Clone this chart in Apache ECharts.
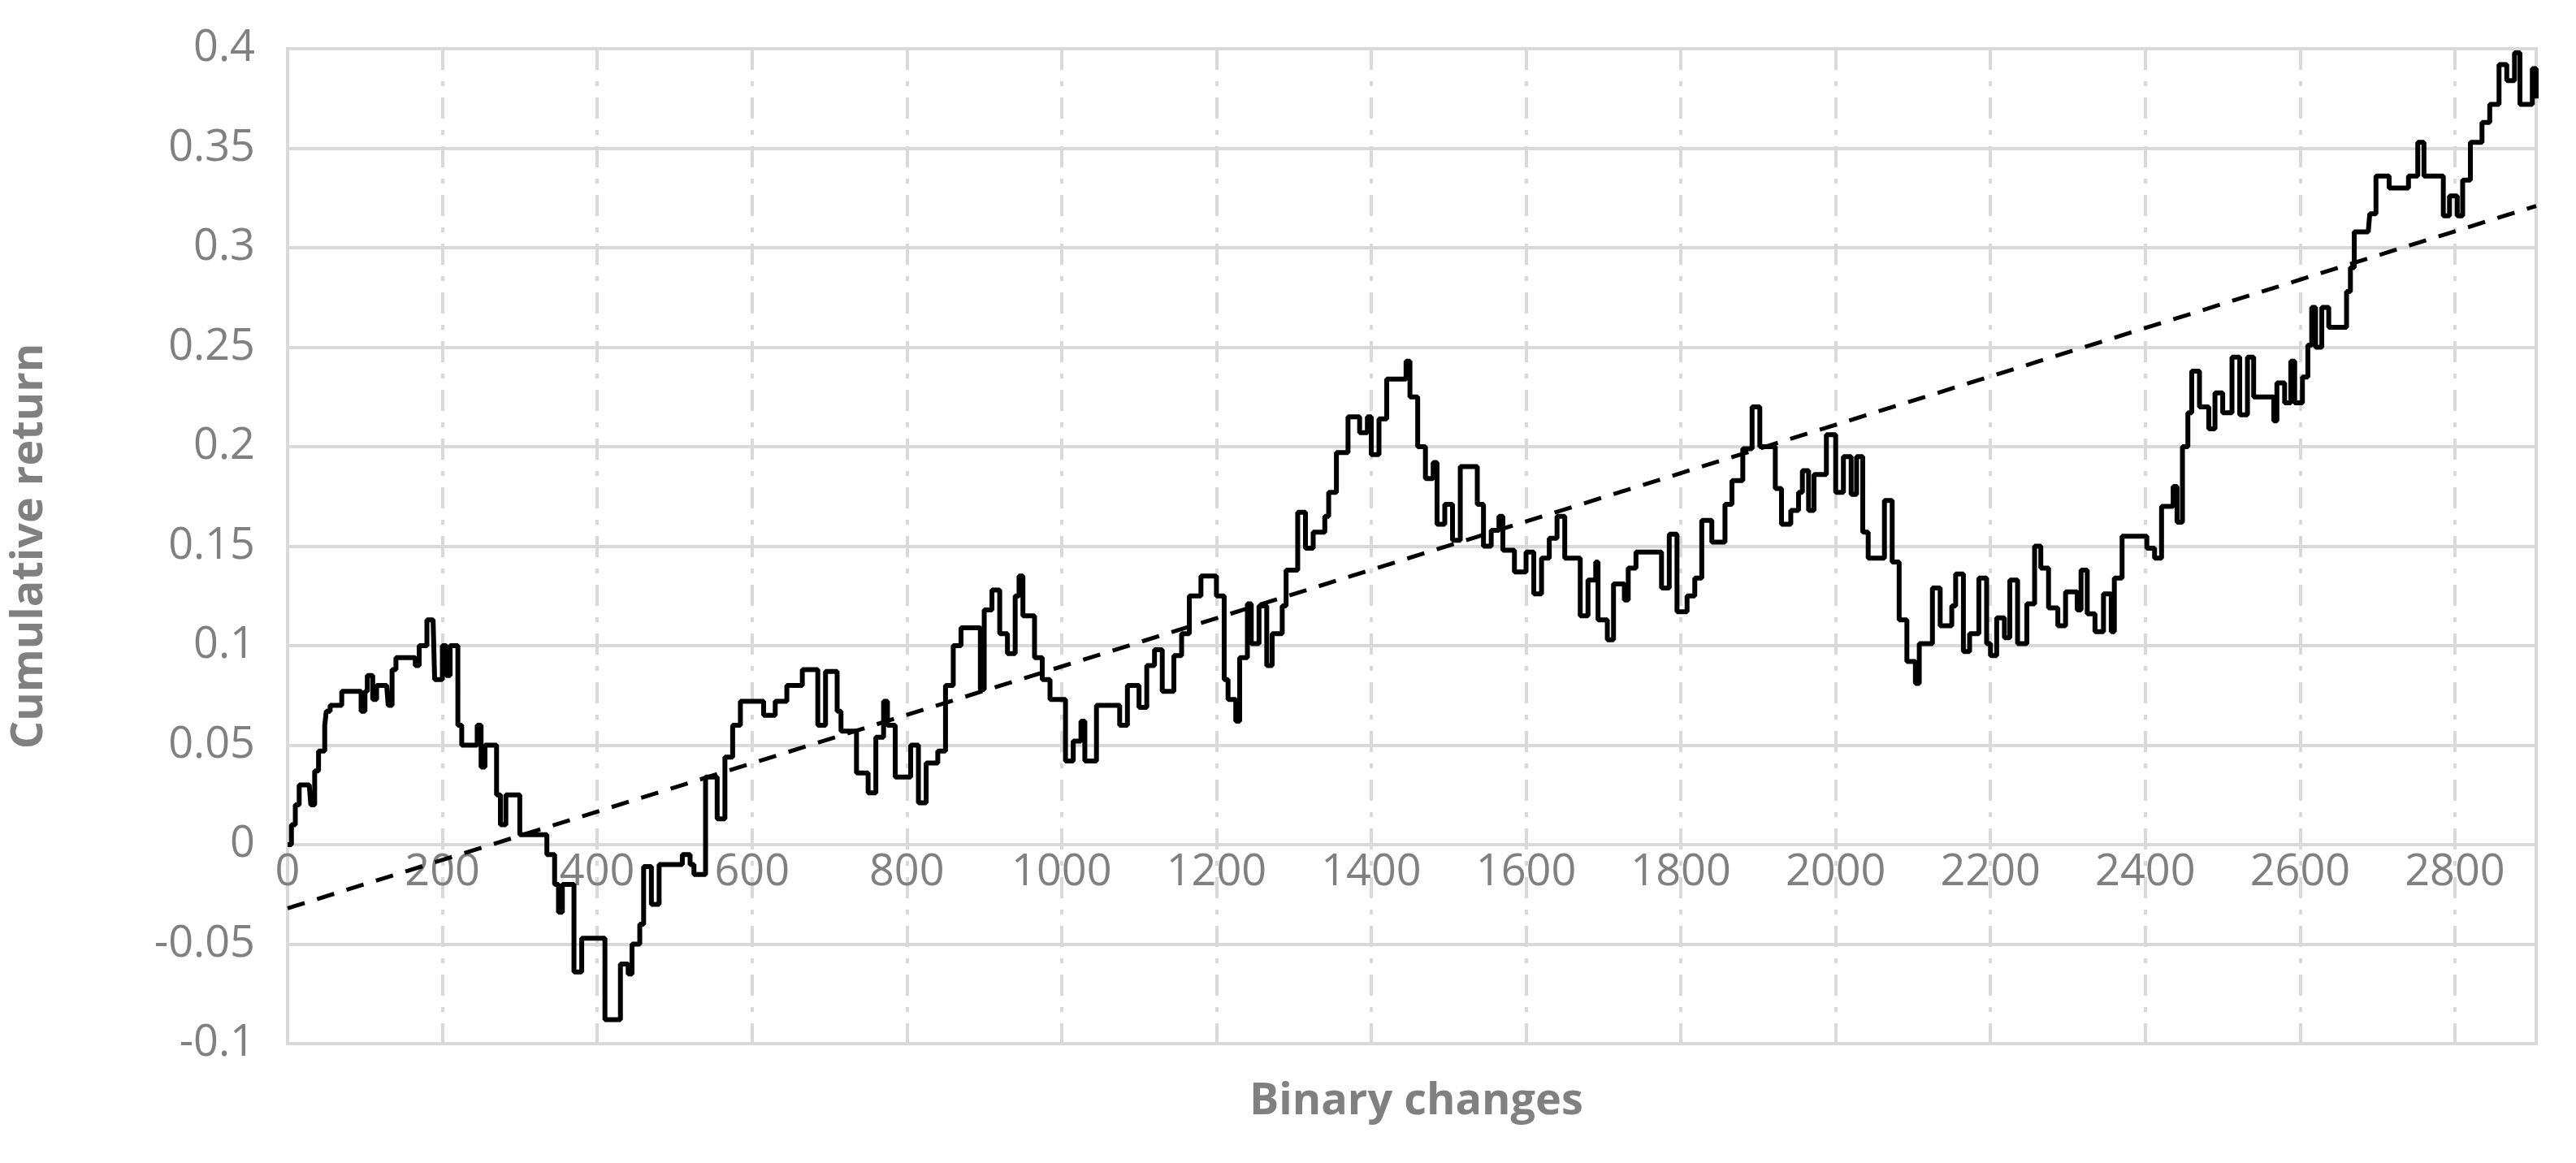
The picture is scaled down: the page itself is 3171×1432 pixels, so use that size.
<!DOCTYPE html>
<html>
<head>
<meta charset="utf-8">
<script src="https://cdn.jsdelivr.net/npm/echarts@6/dist/echarts.min.js"></script>
<style>
  html, body { margin: 0; padding: 0; background: #fff; }
  #chart { width: 3171px; height: 1432px; }
</style>
</head>
<body>
<div id="chart"></div>
<script>
// binary changes (x) and cumulative return (y)
const steps = [0,5,10,15,28,30,35,40,48,50,55,70,95,100,103,110,115,128,130,135,140,160,165,170,175,180,188,190,200,205,210,220,225,240,245,250,255,270,275,282,295,300,330,335,345,350,355,365,370,380,400,410,425,430,440,445,455,460,470,480,500,510,520,525,540,555,565,575,585,600,615,630,645,665,675,685,695,710,
  715,735,750,760,770,775,785,805,815,825,840,850,860,870,885,895,900,910,920,930,940,945,950,965,975,985,1005,1015,1025,1030,1045,1075,1085,1100,1110,1120,1130,1145,1155,1165,1180,1195,1200,1210,1215,1225,1230,1240,1245,1255,1265,1272,1285,1290,1305,1315,1325,1340,1345,1355,1370,1385,1395,1400,1410,1420,1440,1445,1450,
  1460,1470,1480,1485,1495,1505,1515,1530,1537,1545,1555,1565,1570,1585,1600,1610,1620,1630,1640,1650,1665,1670,1680,1690,1693,1705,1713,1727,1732,1742,1770,1775,1785,1795,1808,1818,1827,1840,1857,1866,1880,1892,1902,1918,1922,1930,1942,1952,1957,1965,1972,1988,2000,2010,2020,2027,2035,2042,2057,2063,2073,2082,2092,2103,2108,2120,2125,2135,2150,2155,2165,2173,2185,2195,
  2200,2208,2218,2225,2235,2247,2257,2265,2275,2287,2297,2312,2317,2325,2335,2346,2356,2360,2370,2393,2402,2412,2421,2436,2441,2448,2455,2460,2470,2482,2490,2500,2512,2522,2532,2540,2563,2566,2570,2580,2588,2593,2603,2610,2615,2620,2628,2637,2654,2660,2665,2670,2688,2690,2698,2715,2735,2740,2752,2760,2777,2785,2793,2803,2810,2820,2835,2845,2857,2867,2877,2884,2894,2900,2905];
const returns = [0,0.01,0.02,0.03,0.03,0.02,0.037,0.047,0.06,0.067,0.07,0.077,0.067,0.077,0.085,0.073,0.08,0.08,0.07,0.088,0.094,0.094,0.09,0.1,0.1,0.113,0.113,0.083,0.1,0.085,0.1,0.06,0.05,0.05,0.06,0.039,0.05,0.025,0.01,0.025,0.025,0.005,0.005,-0.005,-0.02,-0.034,-0.02,-0.02,-0.064,-0.047,-0.047,-0.088,-0.088,-0.06,-0.065,-0.05,-0.04,-0.011,-0.03,-0.01,-0.01,-0.005,-0.01,-0.015,0.034,0.013,0.044,0.06,0.072,0.072,0.065,0.072,0.08,0.088,0.088,0.06,0.087,0.067,
  0.057,0.036,0.026,0.054,0.072,0.06,0.034,0.05,0.021,0.041,0.047,0.08,0.1,0.109,0.109,0.078,0.118,0.128,0.106,0.096,0.125,0.135,0.115,0.094,0.083,0.073,0.042,0.052,0.062,0.042,0.07,0.06,0.08,0.069,0.09,0.098,0.077,0.095,0.106,0.125,0.135,0.135,0.125,0.083,0.073,0.062,0.094,0.121,0.101,0.12,0.09,0.106,0.12,0.138,0.167,0.149,0.157,0.165,0.177,0.197,0.215,0.207,0.215,0.196,0.214,0.234,0.234,0.243,0.225,
  0.2,0.184,0.192,0.161,0.171,0.153,0.19,0.19,0.171,0.15,0.158,0.165,0.148,0.137,0.147,0.126,0.144,0.154,0.165,0.144,0.144,0.115,0.133,0.142,0.113,0.103,0.131,0.123,0.139,0.147,0.147,0.129,0.156,0.117,0.125,0.134,0.163,0.152,0.171,0.183,0.199,0.22,0.2,0.2,0.179,0.161,0.168,0.177,0.188,0.168,0.186,0.206,0.177,0.195,0.176,0.195,0.157,0.144,0.144,0.173,0.142,0.113,0.092,0.081,0.101,0.101,0.129,0.11,0.12,0.136,0.097,0.106,0.134,0.101,
  0.095,0.114,0.104,0.133,0.101,0.121,0.15,0.139,0.119,0.11,0.127,0.118,0.138,0.116,0.107,0.126,0.107,0.134,0.155,0.155,0.149,0.144,0.17,0.18,0.162,0.2,0.217,0.238,0.22,0.209,0.227,0.217,0.245,0.216,0.245,0.225,0.225,0.213,0.232,0.222,0.243,0.222,0.235,0.251,0.27,0.25,0.27,0.26,0.26,0.278,0.29,0.308,0.308,0.317,0.336,0.33,0.33,0.336,0.353,0.336,0.336,0.316,0.326,0.316,0.334,0.353,0.363,0.372,0.392,0.384,0.398,0.372,0.372,0.39,0.375];
const trendX = [0, 2905];
const trendY = [-0.032, 0.321];

const GREY = '#d9d9d9';
const TEXT = '#808080';
const FONT = 'Open Sans';

const chart = echarts.init(document.getElementById('chart'));
chart.setOption({
  animation: false,
  grid: { left: 354, right: 49, top: 60, bottom: 147, show: true, borderColor: GREY, borderWidth: 4 },
  xAxis: {
    type: 'value', min: 0, max: 2905, interval: 200,
    position: 'bottom', offset: -245,
    axisLine: { show: true, lineStyle: { color: GREY, width: 4 } },
    axisTick: { show: false },
    axisLabel: { color: TEXT, fontSize: 54, fontFamily: FONT, margin: 8, showMaxLabel: false,
      formatter: v => String(v) },
    splitLine: { show: true, lineStyle: { color: GREY, width: 4, type: [26, 14, 6, 14] } }
  },
  yAxis: {
    type: 'value', min: -0.1, max: 0.4, interval: 0.05,
    axisLine: { show: true, lineStyle: { color: GREY, width: 4 } },
    axisTick: { show: false },
    axisLabel: { color: TEXT, fontSize: 54, fontFamily: FONT, margin: 40,
      formatter: v => String(+v.toFixed(2)) },
    splitLine: { lineStyle: { color: GREY, width: 4 } },
    name: 'Cumulative return', nameLocation: 'middle', nameGap: 290,
    nameTextStyle: { color: TEXT, fontSize: 54, fontWeight: 'bold', fontFamily: FONT }
  },
  graphic: [{
    type: 'text', left: 1738 - 200, top: 1330,
    style: { text: 'Binary changes', fill: TEXT, fontSize: 54, fontWeight: 'bold', fontFamily: FONT }
  }],
  series: [
    {
      type: 'line', data: steps.map((s, i) => [s, returns[i]]), symbol: 'none', step: 'end',
      lineStyle: { color: '#000', width: 6 }, z: 3
    },
    {
      type: 'line', data: trendX.map((s, i) => [s, trendY[i]]), symbol: 'none',
      lineStyle: { color: '#000', width: 5, type: [22, 16] }, z: 2
    }
  ]
});
</script>
</body>
</html>
